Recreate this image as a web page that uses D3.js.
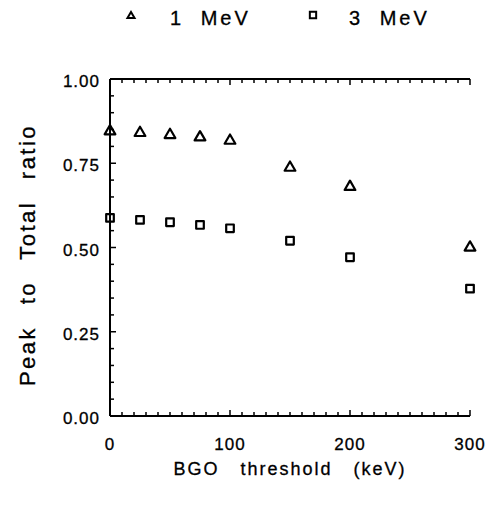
<!DOCTYPE html>
<html>
<head>
<meta charset="utf-8">
<script src="https://cdn.jsdelivr.net/npm/d3@7"></script>
<style>
  body { margin: 0; background: #fff; }
  svg text { font-family: "Liberation Sans", Arial, sans-serif; fill: #000; stroke: #000; stroke-width: 0.3; }
</style>
</head>
<body>
<div id="chart"></div>
<script>
// data
var thresholds = [0, 25, 50, 75, 100, 150, 200, 300];
var ratio1MeV = [0.845, 0.840, 0.834, 0.827, 0.817, 0.737, 0.680, 0.500];
var ratio3MeV = [0.588, 0.582, 0.575, 0.567, 0.557, 0.520, 0.471, 0.378];
var seriesNames = ['1 MeV', '3 MeV'];
var xTickValues = [0, 100, 200, 300];
var yTickValues = [0, 0.25, 0.5, 0.75, 1];

var width = 491, height = 508;
var margin = { left: 110, right: 21, top: 79, bottom: 92 };

var svg = d3.select('#chart').append('svg')
  .attr('width', width)
  .attr('height', height);

var x = d3.scaleLinear().domain([0, 300]).range([margin.left, width - margin.right]);
var y = d3.scaleLinear().domain([0, 1]).range([height - margin.bottom, margin.top]);

// frame lines (left, top, bottom; no right spine in the original)
var frame = svg.append('g').attr('stroke', '#000').attr('stroke-width', 2).attr('fill', 'none');
frame.append('line').attr('x1', x(0)).attr('x2', x(0)).attr('y1', y(0)).attr('y2', y(1));
frame.append('line').attr('x1', x(0)).attr('x2', x(300)).attr('y1', y(1)).attr('y2', y(1));
frame.append('line').attr('x1', x(0)).attr('x2', x(300)).attr('y1', y(0)).attr('y2', y(0));

// minor + major ticks, pointing inward
var ticks = svg.append('g').attr('stroke', '#000').attr('stroke-width', 1.5);
d3.range(0, 301, 10).forEach(function (v) {
  var len = v % 100 === 0 ? 6 : 4;
  ticks.append('line').attr('x1', x(v)).attr('x2', x(v)).attr('y1', y(0)).attr('y2', y(0) - len);
  ticks.append('line').attr('x1', x(v)).attr('x2', x(v)).attr('y1', y(1)).attr('y2', y(1) + len);
});
d3.range(0, 21).forEach(function (k) {
  var v = k * 0.05;
  var len = k % 5 === 0 ? 6 : 4;
  ticks.append('line').attr('x1', x(0)).attr('x2', x(0) + len).attr('y1', y(v)).attr('y2', y(v));
});

// tick labels
svg.append('g').selectAll('text')
  .data(xTickValues)
  .enter().append('text')
  .attr('x', function (d) { return x(d); })
  .attr('y', y(0) + 34)
  .attr('text-anchor', 'middle')
  .attr('font-size', 17)
  .attr('letter-spacing', 1)
  .text(function (d) { return d; });

svg.append('g').selectAll('text')
  .data(yTickValues)
  .enter().append('text')
  .attr('x', x(0) - 10)
  .attr('y', function (d) { return y(d) + 8; })
  .attr('text-anchor', 'end')
  .attr('font-size', 17)
  .attr('letter-spacing', 1)
  .text(function (d) { return d3.format('.2f')(d); });

// axis titles
svg.append('text')
  .attr('x', (x(0) + x(300)) / 2)
  .attr('y', 475)
  .attr('text-anchor', 'middle')
  .attr('font-size', 18)
  .attr('letter-spacing', 2)
  .attr('word-spacing', 14)
  .text('BGO threshold (keV)');

svg.append('text')
  .attr('transform', 'translate(35,' + 255 + ') rotate(-90)')
  .attr('text-anchor', 'middle')
  .attr('font-size', 22)
  .attr('letter-spacing', 2.5)
  .attr('word-spacing', 13)
  .text('Peak to Total ratio');

// markers
var triangle = d3.symbol().type(d3.symbolTriangle).size(50);
var square = d3.symbol().type(d3.symbolSquare).size(58);

var pts1 = thresholds.map(function (t, i) { return { x: t, y: ratio1MeV[i] }; });
var pts3 = thresholds.map(function (t, i) { return { x: t, y: ratio3MeV[i] }; });

svg.append('g').selectAll('path')
  .data(pts1)
  .enter().append('path')
  .attr('d', triangle)
  .attr('transform', function (d) { return 'translate(' + x(d.x) + ',' + y(d.y) + ')'; })
  .attr('fill', 'none')
  .attr('stroke', '#000')
  .attr('stroke-width', 2.2)
  .attr('stroke-linejoin', 'round');

svg.append('g').selectAll('path')
  .data(pts3)
  .enter().append('path')
  .attr('d', square)
  .attr('transform', function (d) { return 'translate(' + x(d.x) + ',' + y(d.y) + ')'; })
  .attr('fill', 'none')
  .attr('stroke', '#000')
  .attr('stroke-width', 2.2)
  .attr('stroke-linejoin', 'round');

// legend
var legend = svg.append('g');
legend.append('path')
  .attr('d', d3.symbol().type(d3.symbolTriangle).size(22))
  .attr('transform', 'translate(131,16)')
  .attr('fill', 'none').attr('stroke', '#000').attr('stroke-width', 2);
legend.append('path')
  .attr('d', d3.symbol().type(d3.symbolSquare).size(40))
  .attr('transform', 'translate(313,15)')
  .attr('fill', 'none').attr('stroke', '#000').attr('stroke-width', 2);
legend.selectAll('text.leg')
  .data(seriesNames)
  .enter().append('text')
  .attr('class', 'leg')
  .attr('x', function (d, i) { return i === 0 ? 170 : 349; })
  .attr('y', 25)
  .attr('font-size', 20)
  .attr('letter-spacing', 3)
  .attr('word-spacing', 8)
  .text(function (d) { return d; });
</script>
</body>
</html>
